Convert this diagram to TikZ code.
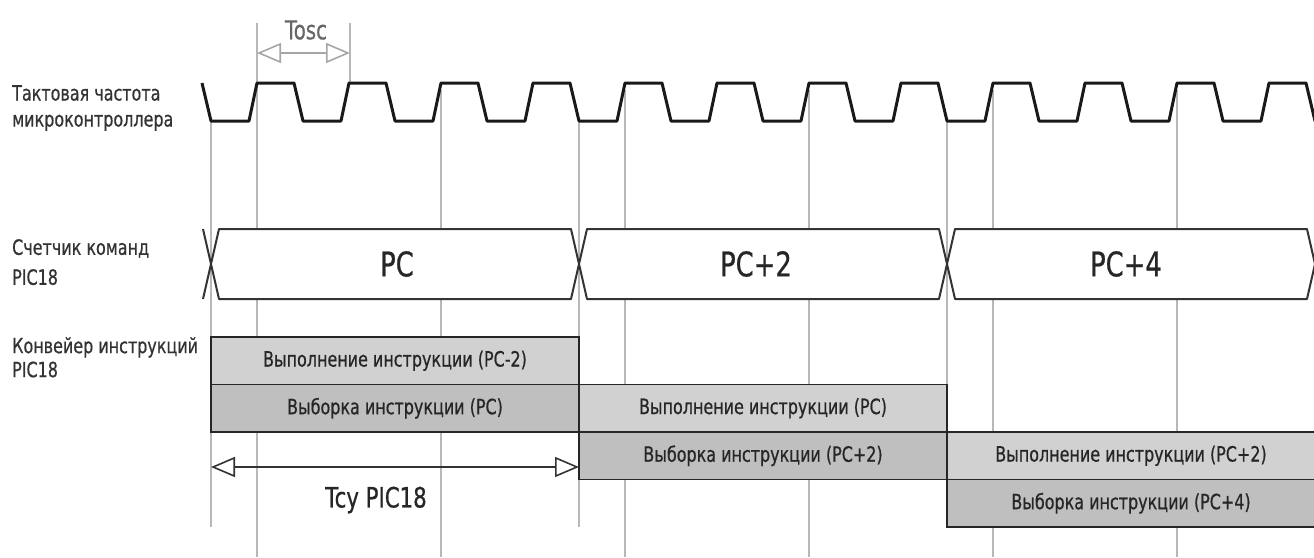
\documentclass[tikz,border=0pt]{standalone}
\usepackage{fontspec}
\setmainfont{DejaVu Sans}[FakeStretch=0.76, FakeBold=0.6]
\usetikzlibrary{arrows.meta, positioning}

\begin{document}
\begin{tikzpicture}[x=1pt, y=-1pt,
  signame/.style={anchor=north west, align=left, inner sep=0pt, text=black!80,
                  font=\fontsize{21}{26}\selectfont},
  stage/.style={draw=black!85, line width=1.4pt, fill=#1, outer sep=0pt,
                minimum width=368pt, minimum height=47.5pt, inner sep=0pt,
                text=black!85, font=\fontsize{21}{23}\selectfont},
  guide/.style={draw=black!28, line width=1.2pt},
  clk/.style={draw=black!90, line width=3pt, line join=round},
  bus/.style={draw=black!80, line width=2pt, fill=white, line join=round},
  buslbl/.style={text=black!85, font=\fontsize{34}{36}\selectfont},
  dim/.style={line width=1.6pt,
              {Triangle[open, length=24pt, width=20pt]}-{Triangle[open, length=24pt, width=20pt]}}]

  \useasboundingbox (0,0) rectangle (1314,557);
  \clip (0,0) rectangle (1314,557);

  % guide lines
  \foreach \x in {211,579,947} \draw[guide] (\x,121) -- (\x,527);
  \foreach \x in {441,625,809,993,1177} \draw[guide] (\x,90) -- (\x,557);
  \draw[guide] (257,23) -- (257,557);
  \draw[guide] (350,23) -- (350,83);

  % clock
  \draw[clk] (202,83) \foreach \k in {1,...,13} { -- ++(9,38) -- ++(38,0) -- ++(8,-38) -- ++(37,0) };

  \coordinate (oscL) at (257,53);
  \coordinate (oscR) at (350,53);
  \draw[dim, draw=black!35] (oscL) -- (oscR);
  \node[text=black!60, font=\fontsize{26}{28}\selectfont] (tosc) at (306,30) {Tosc};

  % program counter
  \foreach \a in {211,579,947}
    \draw[bus] (\a,264) -- (\a+8,229) -- (\a+360,229) -- (\a+368,264) -- (\a+360,299) -- (\a+8,299) -- cycle;
  \draw[bus, fill=none] (203,229) -- (211,264) -- (203,299);
  \node[buslbl] (pc0) at (397,264) {PC};
  \node[buslbl] (pc1) at (756,264) {PC+2};
  \node[buslbl] (pc2) at (1126,264) {PC+4};

  % pipeline
  \node[stage=black!18, anchor=north west] (exec0) at (211,337) {Выполнение инструкции (PC-2)};
  \node[stage=black!25, below=0pt of exec0] (fetch0) {Выборка инструкции (PC)};
  \node[stage=black!18, right=0pt of fetch0] (exec1) {Выполнение инструкции (PC)};
  \node[stage=black!25, below=0pt of exec1] (fetch1) {Выборка инструкции (PC+2)};
  \node[stage=black!18, right=0pt of fetch1] (exec2) {Выполнение инструкции (PC+2)};
  \node[stage=black!25, below=0pt of exec2] (fetch2) {Выборка инструкции (PC+4)};

  \coordinate (cycL) at (211,467);
  \coordinate (cycR) at (579,467);
  \draw[dim, draw=black!80] (cycL) -- (cycR);
  \node[text=black!85, font=\fontsize{28}{30}\selectfont] (tcy) at (376,500) {Tcy PIC18};

  % signal names
  \node[signame] (clkname) at (12,85) {Тактовая частота\\микроконтроллера};
  \node[signame, font=\fontsize{21}{30}\selectfont] (pcname) at (12,239) {Счетчик команд\\PIC18};
  \node[signame, font=\fontsize{21}{24}\selectfont] (pipename) at (12,337) {Конвейер инструкций\\PIC18};
\end{tikzpicture}
\end{document}
